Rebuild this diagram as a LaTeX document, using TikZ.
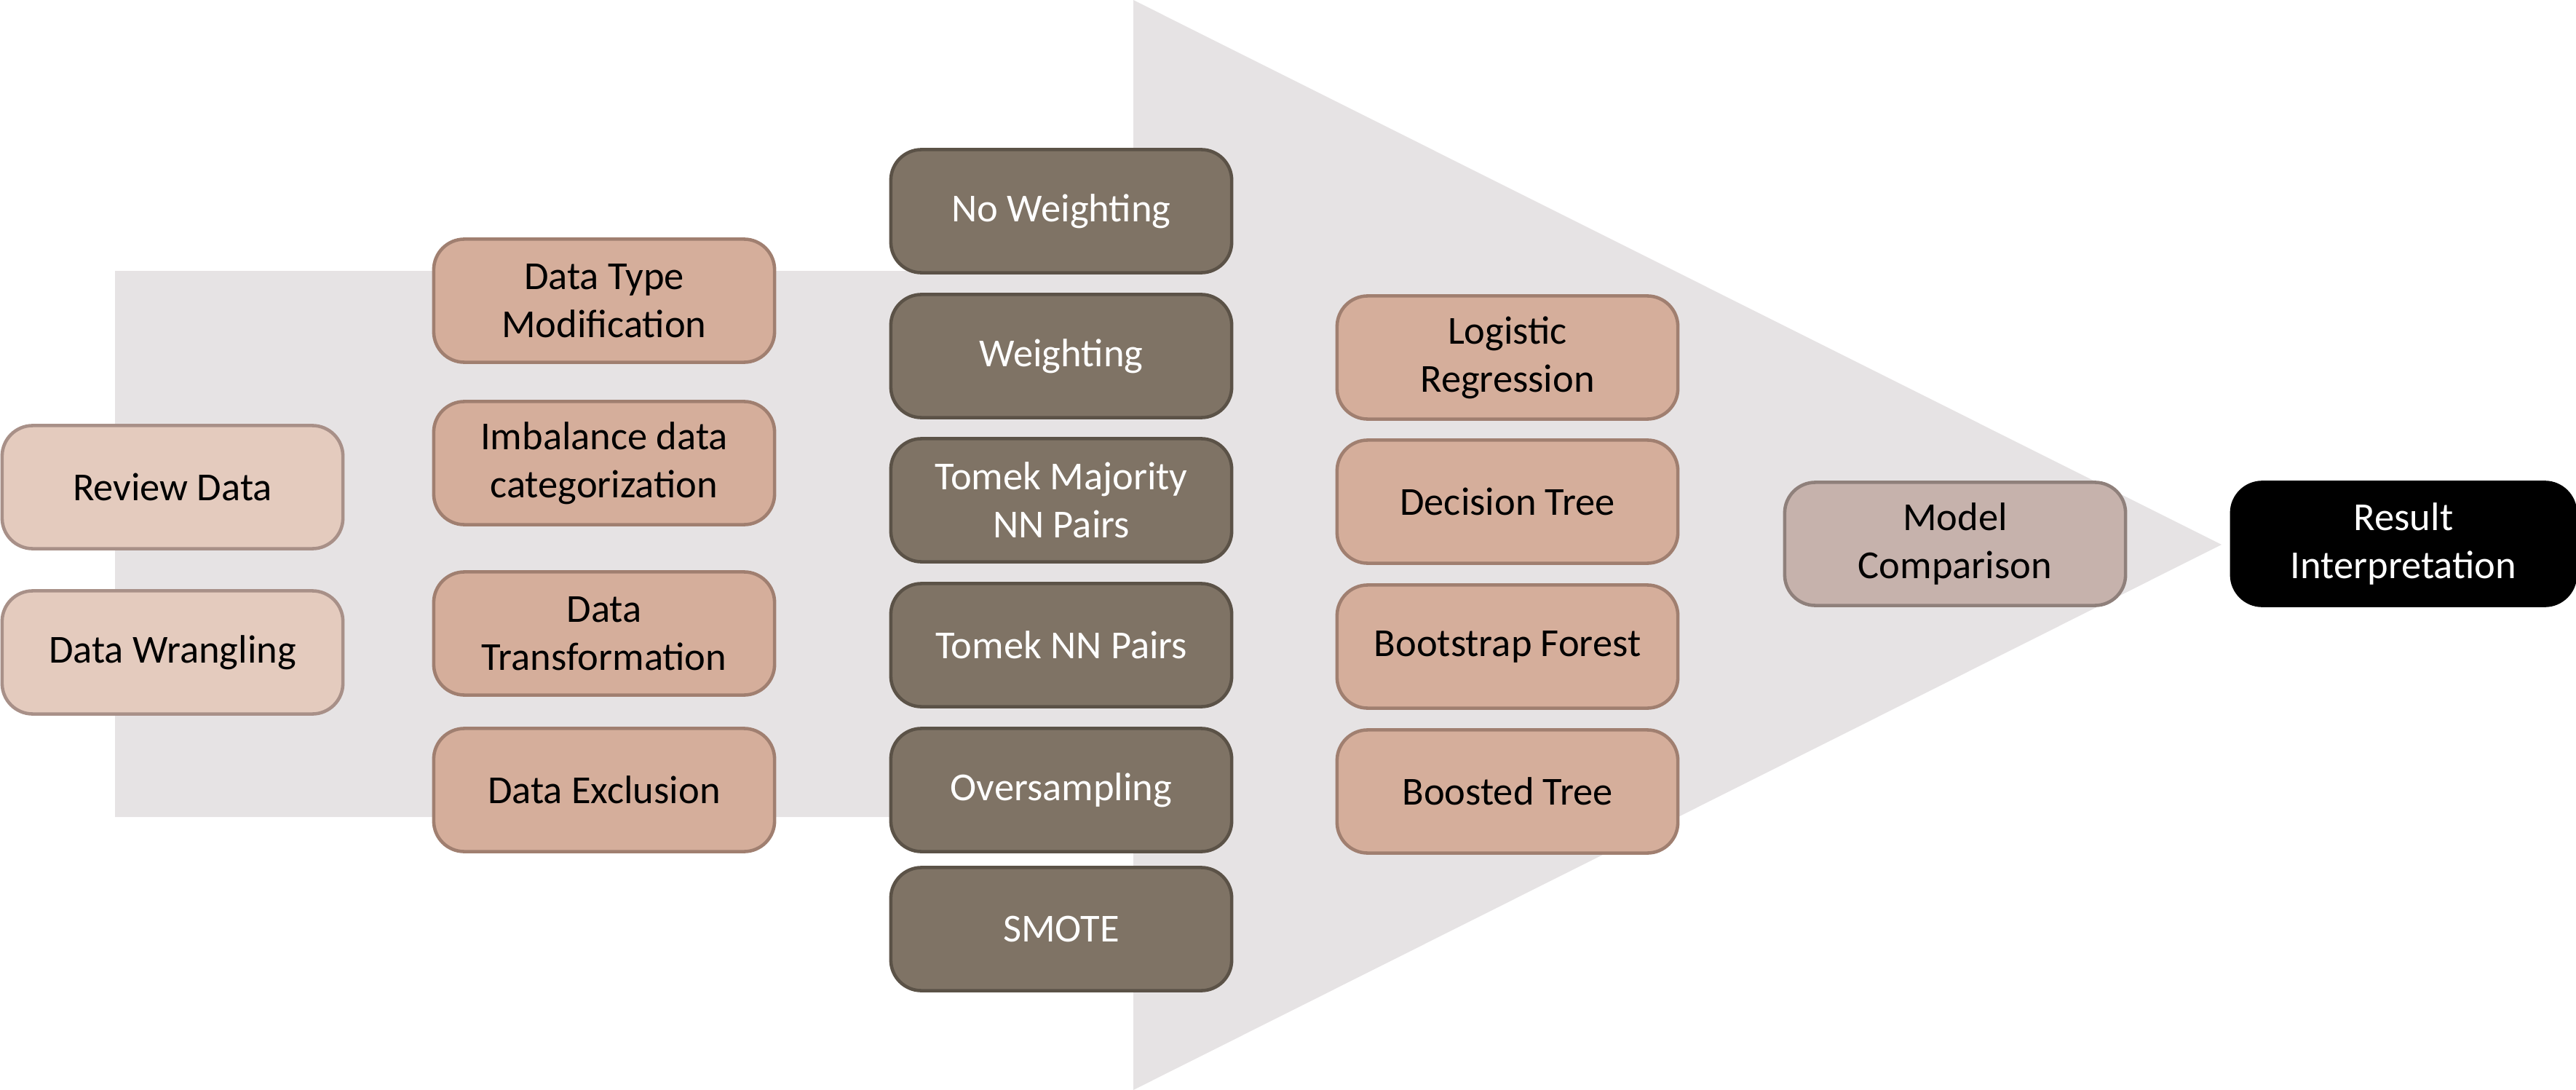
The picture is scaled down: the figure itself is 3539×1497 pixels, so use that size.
\documentclass[tikz,border=0pt]{standalone}
\usepackage{fontspec}
\setmainfont{Carlito}
\definecolor{arrowgrey}{HTML}{E6E3E4}
\definecolor{lightfill}{HTML}{E4CBBE}
\definecolor{lightdraw}{HTML}{A89088}
\definecolor{midfill}{HTML}{D5AE9B}
\definecolor{middraw}{HTML}{A07F70}
\definecolor{darkfill}{HTML}{7F7365}
\definecolor{darkdraw}{HTML}{5B5247}
\definecolor{cmpfill}{HTML}{C6B2AC}
\definecolor{cmpdraw}{HTML}{8F807B}
\tikzset{
  box/.style={rectangle, rounded corners=0.42cm, line width=1.3pt,
    minimum width=4.68cm, minimum height=1.69cm, align=center,
    font=\fontsize{15.5}{18.8}\selectfont, inner sep=0pt},
  lightbox/.style={box, fill=lightfill, draw=lightdraw},
  midbox/.style={box, fill=midfill, draw=middraw},
  darkbox/.style={box, fill=darkfill, draw=darkdraw, text=white},
  cmpbox/.style={box, fill=cmpfill, draw=cmpdraw},
  blackbox/.style={box, fill=black, draw=black, text=white}
}
\begin{document}
\begin{tikzpicture}[x=0.01cm, y=-0.01cm]
\useasboundingbox (0,0) rectangle (3539,1497);
% big arrow
\fill[arrowgrey] (158,372) -- (1557,372) -- (1557,0) -- (3052,748) -- (1557,1497) -- (1557,1122) -- (158,1122) -- cycle;
% column 1
\node[lightbox] (review) at (237,669) {Review Data};
\node[lightbox] (wrangle) at (237,896) {Data Wrangling};
% column 2
\node[midbox] (dtype) at (830,413) {Data Type\\Modification};
\node[midbox] (imbal) at (830,636) {Imbalance data\\categorization};
\node[midbox] (dtrans) at (830,870) {Data\\Transformation};
\node[midbox] (dexcl) at (830,1085) {Data Exclusion};
% column 3
\node[darkbox] (noweight) at (1458,290) {No Weighting};
\node[darkbox] (weight) at (1458,489) {Weighting};
\node[darkbox] (tomekmaj) at (1458,687) {Tomek Majority\\NN Pairs};
\node[darkbox] (tomeknn) at (1458,886) {Tomek NN Pairs};
\node[darkbox] (overs) at (1458,1085) {Oversampling};
\node[darkbox] (smote) at (1458,1276) {SMOTE};
% column 4
\node[midbox] (logreg) at (2071,491) {Logistic\\Regression};
\node[midbox] (dtree) at (2071,689) {Decision Tree};
\node[midbox] (bforest) at (2071,888) {Bootstrap Forest};
\node[midbox] (btree) at (2071,1087) {Boosted Tree};
% final
\node[cmpbox] (modelcmp) at (2686,747) {Model\\Comparison};
\node[blackbox, minimum width=4.72cm] (result) at (3302,747) {Result\\Interpretation};
\end{tikzpicture}
\end{document}
